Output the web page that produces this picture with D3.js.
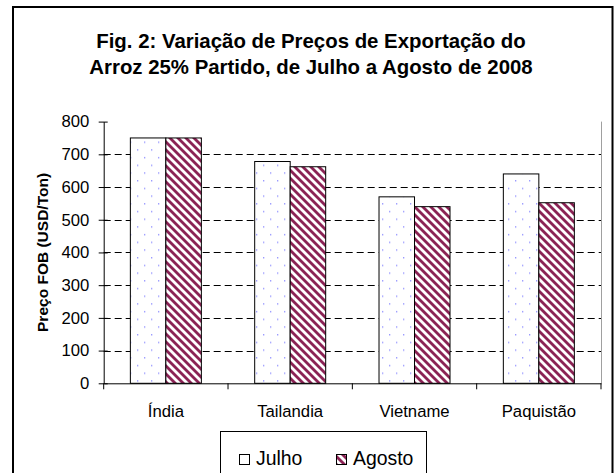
<!DOCTYPE html>
<html><head><meta charset="utf-8">
<script src="https://cdn.jsdelivr.net/npm/d3@7"></script>
<style>body{margin:0;background:#fff}svg{display:block;font-family:Arial,"Liberation Sans",sans-serif}</style>
</head><body><div id="chart"></div>
<script>
const categories = ["Índia", "Tailandia", "Vietname", "Paquistão"];
const julho = [750, 678, 570, 640];
const agosto = [750, 662, 540, 552];
const seriesNames = ["Julho", "Agosto"];
const yTicks = [0, 100, 200, 300, 400, 500, 600, 700, 800];
const titleLines = ["Fig. 2: Variação de Preços de Exportação do", "Arroz 25% Partido, de Julho a Agosto de 2008"];
const yTitle = "Preço FOB (USD/Ton)";

const W = 614, H = 473;
const FONT = "Arial, 'Liberation Sans', sans-serif";
const svg = d3.select("#chart").append("svg").attr("width", W).attr("height", H);
const defs = svg.append("defs");

// dotted pattern (Julho)
const pd = defs.append("pattern").attr("id", "dots").attr("patternUnits", "userSpaceOnUse")
  .attr("width", 14).attr("height", 15.4);
pd.append("rect").attr("width", 14).attr("height", 15.4).attr("fill", "#fff");
pd.append("rect").attr("x", 4).attr("y", 3).attr("width", 1.3).attr("height", 1.3).attr("fill", "#8c8cff");
pd.append("rect").attr("x", 11).attr("y", 10.7).attr("width", 1.3).attr("height", 1.3).attr("fill", "#8c8cff");

// diagonal hatch (Agosto)
const ph = defs.append("pattern").attr("id", "hatch").attr("patternUnits", "userSpaceOnUse")
  .attr("width", 8).attr("height", 8);
ph.append("rect").attr("width", 8).attr("height", 8).attr("fill", "#fff");
[[-4, -4, 12, 12], [-8, 0, 4, 12], [4, -4, 16, 8]].forEach(l =>
  ph.append("line").attr("x1", l[0]).attr("y1", l[1]).attr("x2", l[2]).attr("y2", l[3])
    .attr("stroke", "#8b2355").attr("stroke-width", 2.8));

// outer chart border
svg.append("rect").attr("x", 13).attr("y", 7).attr("width", 599.5).attr("height", 490)
  .attr("fill", "none").attr("stroke", "#000").attr("stroke-width", 2);

// title
const title = svg.append("text").attr("text-anchor", "middle").attr("font-weight", "bold")
  .attr("font-size", 20.4).attr("fill", "#000");
titleLines.forEach((t, i) => title.append("tspan").attr("x", 311).attr("y", 48 + i * 26).text(t));

const m = {left: 103.7, right: 601, top: 121.6, bottom: 383.3};
const x = d3.scaleBand().domain(categories).range([m.left, m.right]).paddingInner(0).paddingOuter(0);
const y = d3.scaleLinear().domain([0, 800]).range([m.bottom, m.top]);

// plot area right border (gray)
svg.append("line").attr("x1", m.right + 0.5).attr("x2", m.right + 0.5).attr("y1", m.top).attr("y2", m.bottom)
  .attr("stroke", "#a0a0a0").attr("stroke-width", 1);

// gridlines
svg.append("g").selectAll("line").data(yTicks.filter(d => d > 0 && d < 800)).join("line")
  .attr("x1", m.left).attr("x2", m.right).attr("y1", d => Math.round(y(d)) + 0.5).attr("y2", d => Math.round(y(d)) + 0.5)
  .attr("stroke", "#000").attr("stroke-dasharray", "7,4");

// bars
const barW = 35.5;
const series = [julho, agosto];
const fills = ["url(#dots)", "url(#hatch)"];
series.forEach((vals, si) => {
  svg.append("g").selectAll("rect").data(categories).join("rect")
    .attr("x", (d) => x(d) + x.bandwidth() / 2 - barW + si * barW)
    .attr("y", (d, i) => y(vals[i]))
    .attr("width", barW)
    .attr("height", (d, i) => y(0) - y(vals[i]))
    .attr("fill", fills[si]).attr("stroke", "#000").attr("stroke-width", 1);
});

// y axis
const ya = svg.append("g").attr("transform", `translate(${m.left},0)`)
  .call(d3.axisLeft(y).tickValues(yTicks).tickSize(0).tickPadding(14.4));
ya.select(".domain").attr("stroke", "#000");
ya.selectAll("text").attr("font-size", 16.7).attr("fill", "#000").attr("font-family", FONT);
ya.selectAll(".tick").append("line").attr("x1", -5).attr("x2", 4).attr("stroke", "#000");

// x axis
const xa = svg.append("g").attr("transform", `translate(0,${m.bottom})`)
  .call(d3.axisBottom(x).tickSize(0).tickPadding(0));
xa.select(".domain").attr("stroke", "#000");
xa.selectAll("text").attr("font-size", 16.7).attr("fill", "#000").attr("font-family", FONT)
  .attr("dy", null).attr("y", 417 - m.bottom);
const bounds = categories.map(c => x(c)).concat([x(categories[categories.length - 1]) + x.bandwidth()]);
xa.append("g").selectAll("line").data(bounds).join("line")
  .attr("x1", d => d).attr("x2", d => d).attr("y1", 0).attr("y2", 6).attr("stroke", "#000");

// y title
svg.append("text").attr("transform", `translate(47.5,${(m.top + m.bottom) / 2}) rotate(-90)`)
  .attr("text-anchor", "middle").attr("font-weight", "bold").attr("font-size", 15.5).attr("fill", "#000")
  .text(yTitle);

// legend
const lg = svg.append("g");
lg.append("rect").attr("x", 220.5).attr("y", 431.5).attr("width", 206).attr("height", 60)
  .attr("fill", "#fff").attr("stroke", "#000");
const legX = [239.5, 336.5];
seriesNames.forEach((n, i) => {
  lg.append("rect").attr("x", legX[i]).attr("y", 454.5).attr("width", 10).attr("height", 10)
    .attr("fill", fills[i]).attr("stroke", "#000");
  lg.append("text").attr("x", legX[i] + 16.5).attr("y", 465).attr("font-size", 19.4).attr("fill", "#000")
    .attr("font-family", FONT).text(n);
});
</script></body></html>
